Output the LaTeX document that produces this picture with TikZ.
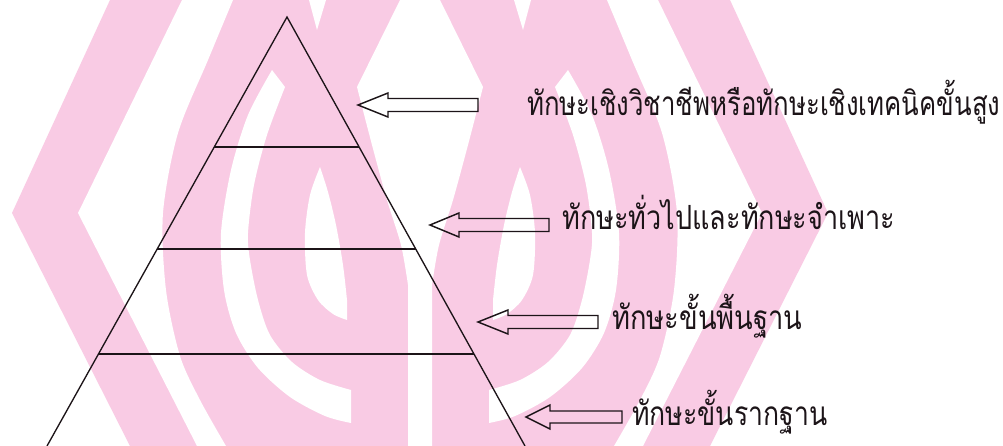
\documentclass[tikz,border=0pt]{standalone}
\usepackage{fontspec}
\usepackage{graphicx}
\newfontfamily\thaifont[Script=Thai]{Loma}
\usetikzlibrary{calc}
\definecolor{wmpink}{RGB}{249,203,228}
\definecolor{inkc}{RGB}{28,20,24}
\newcommand\halfwhite{%
 \fill[white] (182,0) -- (78,213) -- (197,446) -- (226,446) -- plot[smooth] coordinates {(226,446) (200,400) (180,356) (166,290) (163,213) (178,133) (208,60) (233,0)} -- cycle;
 \fill[white] plot[smooth] coordinates {(272,70) (248,115) (231,170) (221,233) (224,290) (236,333) (258,368) (290,397) (325,416) (351,423)} -- (351,390) -- plot[smooth] coordinates {(351,390) (320,380) (292,362) (270,335) (258,300) (250,260) (248,233) (254,185) (267,135) (285,87)} -- cycle;
 \fill[white] plot[smooth] coordinates {(320,167) (310,195) (305,233) (307,275) (318,300) (333,314) (347,320)} -- (347,300) -- plot[smooth] coordinates {(347,300) (343,265) (336,225) (328,192) (320,167)} -- cycle;
 \fill[white] (309,0) -- (317,30) -- (326,0) -- cycle;
}
\tikzset{
  edge line/.style={draw=inkc, line width=1.0pt},
  level line/.style={draw=inkc, line width=1.2pt},
  block arrow/.style={draw=inkc, line width=1.1pt, line join=miter},
  lbl/.style={inner sep=0pt, anchor=base west, text=inkc, font=\thaifont\fontsize{25}{30}\selectfont},
}
\begin{document}
\begin{tikzpicture}[x=0.75pt,y=-0.75pt]
\useasboundingbox (0,0) rectangle (1003,446);
\fill[white] (0,0) rectangle (1003,446);
\begin{scope}
\clip (0,0) rectangle (1003,446);
% watermark
\fill[wmpink] (110,0) -- (730,0) -- (828,213) -- (710,446) -- (130,446) -- (12,213) -- cycle;
\halfwhite
\begin{scope}[xshift=630pt,xscale=-1]
\halfwhite
\end{scope}
\fill[white] (400,0) -- (357,87) -- plot[smooth] coordinates {(357,87) (372,145) (387,200) (401,245) (408,285)} -- (408,446) -- (432,446) -- plot[smooth] coordinates {(432,285) (439,245) (453,200) (468,145) (483,87)} -- (440,0) -- cycle;
\end{scope}
% pyramid
\coordinate (A) at (287,17);
\coordinate (BL) at (47,446);
\coordinate (BR) at (525,446);
\draw[edge line] (BL) -- (A) -- (BR);
\draw[level line] ($(A)!0.3030!(BL)$) -- ($(A)!0.3030!(BR)$);
\draw[level line] ($(A)!0.5408!(BL)$) -- ($(A)!0.5408!(BR)$);
\draw[level line] ($(A)!0.7855!(BL)$) -- ($(A)!0.7855!(BR)$);
% arrows
\coordinate (a1) at (358,105);
\coordinate (a2) at (430,225);
\coordinate (a3) at (478,322);
\coordinate (a4) at (526,417);
\draw[block arrow] (a1) -- ++(30,-12) -- ++(0,5.5) -- ++(90,0) -- ++(0,13) -- ++(-90,0) -- ++(0,5.5) -- cycle;
\draw[block arrow] (a2) -- ++(29,-12) -- ++(0,5.5) -- ++(90,0) -- ++(0,13) -- ++(-90,0) -- ++(0,5.5) -- cycle;
\draw[block arrow] (a3) -- ++(30,-12) -- ++(0,5.5) -- ++(90,0) -- ++(0,13) -- ++(-90,0) -- ++(0,5.5) -- cycle;
\draw[block arrow] (a4) -- ++(24,-12) -- ++(0,6) -- ++(72,0) -- ++(0,12) -- ++(-72,0) -- ++(0,6) -- cycle;
% labels
\node[lbl] (t1) at (527,115) {\resizebox{354.75pt}{\height}{ทักษะเชิงวิชาชีพหรือทักษะเชิงเทคนิคขั้นสูง}};
\node[lbl] (t2) at (562,229) {\resizebox{249.75pt}{\height}{ทักษะทั่วไปและทักษะจำเพาะ}};
\node[lbl] (t3) at (612,329) {\resizebox{142.5pt}{\height}{ทักษะขั้นพื้นฐาน}};
\node[lbl] (t4) at (632,425) {\resizebox{146.25pt}{\height}{ทักษะขั้นรากฐาน}};
\end{tikzpicture}
\end{document}
